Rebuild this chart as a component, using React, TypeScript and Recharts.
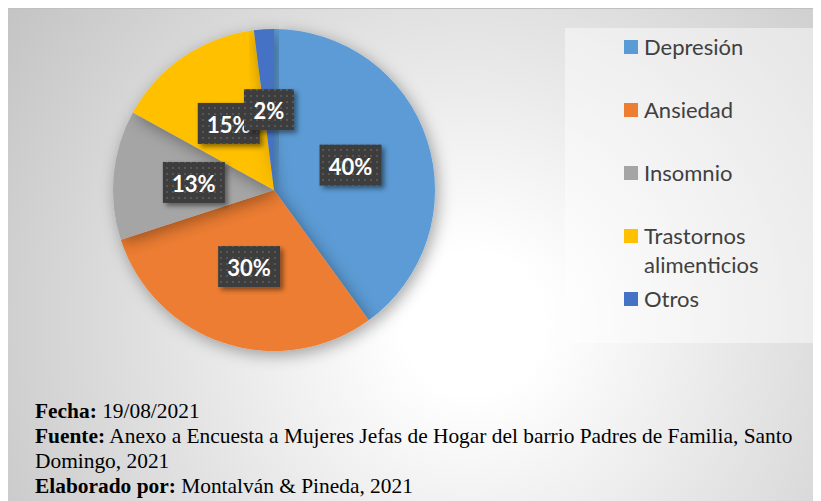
import { PieChart, Pie, Cell, Legend } from "recharts";

// Afecciones reportadas (porcentaje)
const categories = ["Depresión", "Ansiedad", "Insomnio", "Trastornos alimenticios", "Otros"];
const values = [40, 30, 13, 15, 2];
const colors = ["#5B9BD5", "#ED7D31", "#A5A5A5", "#FFC000", "#4472C4"];

const footerLines = [
  { label: "Fecha:", text: " 19/08/2021" },
  { label: "Fuente:", text: " Anexo a Encuesta a Mujeres Jefas de Hogar del barrio Padres de Familia, Santo" },
  { label: "", text: "Domingo, 2021" },
  { label: "Elaborado por:", text: " Montalván & Pineda, 2021" },
];

const data = categories.map((name, i) => ({ name, value: values[i] }));
const RAD = Math.PI / 180;

const renderLabel = (props: any) => {
  const { cx, cy, midAngle, outerRadius, percent } = props;
  const r = outerRadius * 0.5;
  const x = cx + r * Math.cos(-midAngle * RAD);
  const y = cy + r * Math.sin(-midAngle * RAD);
  const text = `${Math.round(percent * 100)}%`;
  const w = text.length > 2 ? 62 : 50;
  const h = 41;
  return (
    <g>
      <rect
        x={x - w / 2}
        y={y - h / 2}
        width={w}
        height={h}
        fill="url(#dotPattern)"
        filter="url(#boxShadow)"
      />
      <text
        x={x}
        y={y + 1}
        textAnchor="middle"
        dominantBaseline="central"
        fill="#ffffff"
        fontFamily="Lato, 'Open Sans', sans-serif"
        fontWeight={700}
        fontSize={22}
      >
        {text}
      </text>
    </g>
  );
};

const LegendBox = ({ payload }: any) => {
  // keep the data order, not alphabetical
  const items = categories
    .map((c) => (payload || []).find((p: any) => p.value === c))
    .filter(Boolean);
  return (
    <div
      style={{
        position: "relative",
        width: 256,
        height: 315,
        background: "rgba(255,255,255,0.45)",
        fontFamily: "Lato, 'Open Sans', sans-serif",
        fontSize: 22,
        color: "#404040",
      }}
    >
      {items.map((p: any, i: number) => (
        <div
          key={p.value}
          style={{ position: "absolute", left: 59, top: 18 + i * 63 - 14.5, width: 190, lineHeight: "29px" }}
        >
          <span
            style={{
              position: "absolute",
              left: 0,
              top: 8,
              width: 14,
              height: 14,
              background: p.color,
            }}
          />
          <div style={{ marginLeft: 20, width: 170 }}>{p.value}</div>
        </div>
      ))}
    </div>
  );
};

export default function App() {
  return (
    <div
      style={{
        position: "relative",
        width: 813,
        height: 493,
        borderTop: "1px solid #c0c0c0",
        boxSizing: "border-box",
        background:
          "radial-gradient(circle at 465px 315px, #ffffff 0px, #ffffff 70px, #c4c4c4 560px)",
      }}
    >
      <div style={{ position: "absolute", left: 0, top: 0 }}>
        <PieChart width={813} height={390} margin={{ top: 0, right: 0, bottom: 0, left: 0 }}>
          <defs>
            <pattern id="dotPattern" width={6} height={6} patternUnits="userSpaceOnUse">
              <rect width={6} height={6} fill="#3d3d3d" />
              <rect x={2} y={2} width={2} height={2} fill="#575757" />
            </pattern>
            <filter id="boxShadow" x="-30%" y="-30%" width="160%" height="160%">
              <feDropShadow dx={3} dy={3} stdDeviation={2.5} floodColor="#000" floodOpacity={0.45} />
            </filter>
            <filter id="pieShadow" x="-20%" y="-20%" width="140%" height="140%">
              <feDropShadow dx={3} dy={4} stdDeviation={8} floodColor="#000" floodOpacity={0.35} />
            </filter>
          </defs>
          <Pie
            data={data}
            dataKey="value"
            nameKey="name"
            cx={266}
            cy={181}
            outerRadius={161}
            startAngle={90}
            endAngle={-270}
            stroke="none"
            labelLine={false}
            label={renderLabel}
            isAnimationActive={false}
            style={{ filter: "url(#pieShadow)" }}
          >
            {data.map((d, i) => (
              <Cell key={d.name} fill={colors[i]} />
            ))}
          </Pie>
          <Legend
            layout="vertical"
            align="right"
            verticalAlign="top"
            content={<LegendBox />}
            wrapperStyle={{ left: 557, top: 19, width: 256, height: 315 }}
          />
        </PieChart>
      </div>
      <div
        style={{
          position: "absolute",
          left: 27,
          top: 390,
          fontFamily: "'Liberation Serif', 'Times New Roman', serif",
          fontSize: 21.4,
          lineHeight: "25px",
          color: "#000",
          whiteSpace: "nowrap",
        }}
      >
        {footerLines.map((l, i) => (
          <div key={i}>
            {l.label && <b>{l.label}</b>}
            {l.text}
          </div>
        ))}
      </div>
    </div>
  );
}
